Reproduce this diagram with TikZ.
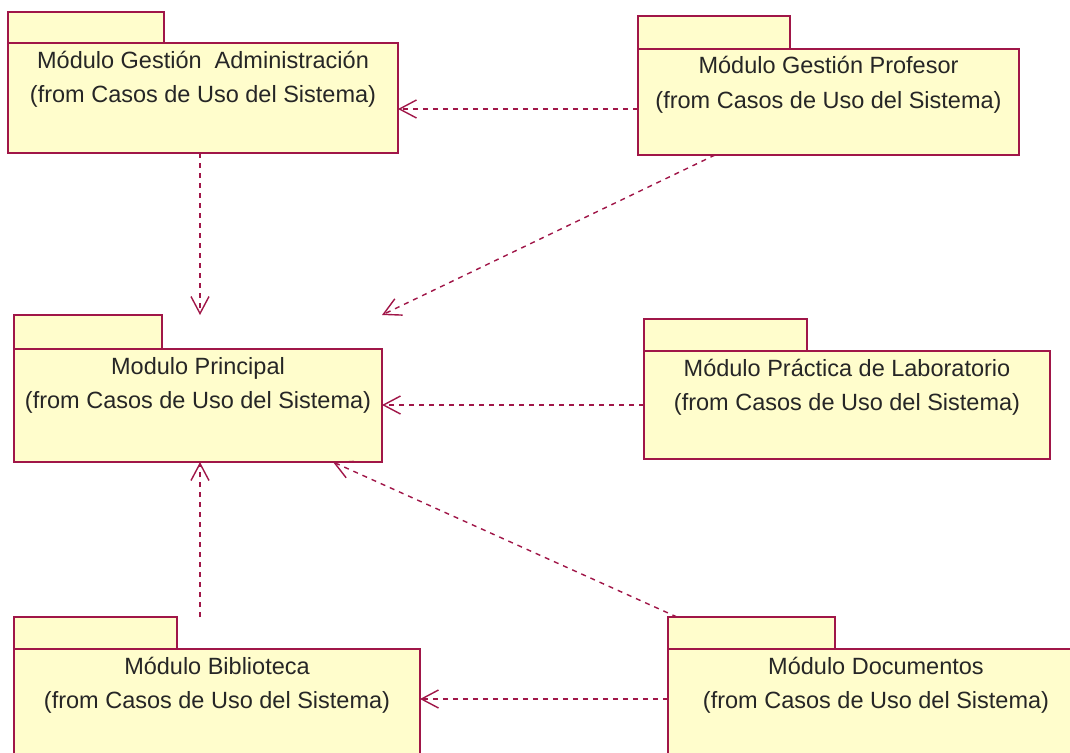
\documentclass[tikz,border=0pt]{standalone}
\usepackage{fontspec}
\setmainfont{Liberation Sans}
\usetikzlibrary{arrows.meta,calc}

\definecolor{pkgborder}{RGB}{160,22,72}
\definecolor{pkgfill}{RGB}{255,253,204}

\tikzset{
  pkgbox/.style={anchor=north west, inner sep=0pt, outer sep=0pt, draw=none},
  pkgline/.style={draw=pkgborder, fill=pkgfill, line width=1.5pt},
  pkgtext/.style={anchor=base, inner sep=0pt, text=black!85,
    font=\fontsize{23.5}{28}\selectfont},
  dep/.style={draw=pkgborder, line width=1.4pt, dash pattern=on 5pt off 5pt,
    -{Straight Barb[length=17pt,width=18pt,line width=1.4pt]}}
}

% UML package: name, x, y (top left of tab), width, total height, tab width, tab height, title
\newcommand\umlpkg[8]{%
  \node[pkgbox, minimum width=#4pt, minimum height=#5pt] (#1) at (#2,#3) {};
  \draw[pkgline] (#1.north west) rectangle ++(#6,#7);
  \draw[pkgline] ($(#1.north west)+(0,#7)$) rectangle (#1.south east);
  \node[pkgtext] (#1-title) at ($(#1.north)+(0,#7+25)$) {#8};
  \node[pkgtext] (#1-from) at ($(#1.north)+(0,#7+59)$) {(from Casos de Uso del Sistema)};
}

\begin{document}
\begin{tikzpicture}[x=1pt,y=-1pt]
  \useasboundingbox (0,0) rectangle (1070,752);
  \clip (0,0) rectangle (1070,752);
  \fill[white] (0,0) rectangle (1070,752);

  \umlpkg{adm}{8}{12}{390}{141}{156}{31}{Módulo Gestión\ \ Administración}
  \umlpkg{prof}{638}{16}{381}{139}{152}{33}{Módulo Gestión Profesor}
  \umlpkg{prin}{14}{315}{368}{147}{148}{34}{Modulo Principal}
  \umlpkg{lab}{644}{319}{406}{140}{163}{32}{Módulo Práctica de Laboratorio}
  \umlpkg{bib}{14}{617}{406}{173}{163}{32}{Módulo Biblioteca}
  \umlpkg{doc}{668}{617}{416}{173}{167}{32}{Módulo Documentos}

  % dependencies
  \draw[dep] (prof.west |- 0,109) -- (adm.east |- 0,109);
  \draw[dep] (adm.south -| 200,0) -- (prin.north -| 200,0);
  \draw[dep] (prof.south -| 715,0) -- (prin.north east);
  \draw[dep] (lab.west |- 0,405) -- (prin.east |- 0,405);
  \draw[dep] (bib.north -| 200,0) -- (prin.south -| 200,0);
  \draw[dep] (doc.north -| 677,0) -- (prin.south -| 333,0);
  \draw[dep] (doc.west |- 0,699) -- (bib.east |- 0,699);
\end{tikzpicture}
\end{document}
